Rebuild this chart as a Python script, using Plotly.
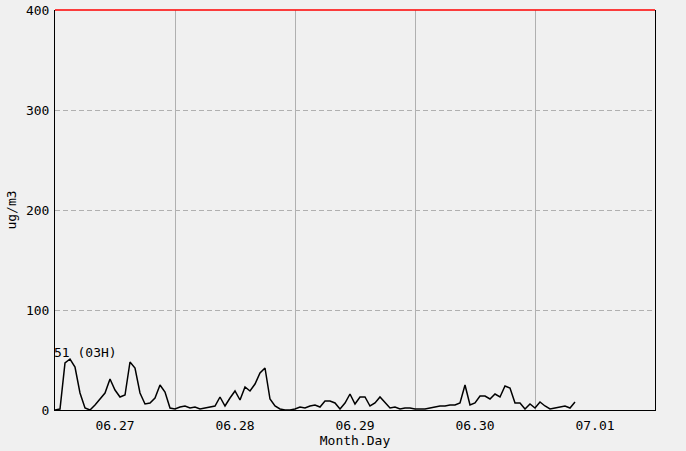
import plotly.graph_objects as go

# hours since 06.27 00:00
values = [
    0, 1, 47, 51, 43, 17, 2, 0, 5, 11, 17, 31, 20, 13, 15, 48, 42, 17, 6, 7, 12, 25, 18, 2,
    1, 3, 4, 2, 3, 1, 2, 3, 4, 13, 4, 12, 19, 10, 23, 19, 26, 37, 42, 11, 4, 1, 0, 0,
    1, 3, 2, 4, 5, 3, 9, 9, 7, 1, 7, 16, 6, 13, 13, 4, 7, 13, 7, 2, 3, 1, 2, 2,
    1, 1, 1, 2, 3, 4, 4, 5, 5, 7, 25, 5, 7, 14, 14, 11, 16, 13, 24, 22, 7, 7, 1, 6,
    2, 8, 4, 1, 2, 3, 4, 2, 8,
]
hours = list(range(len(values)))
tick_vals = [12, 36, 60, 84, 108]
tick_text = ["06.27", "06.28", "06.29", "06.30", "07.01"]
day_bounds = [24, 48, 72, 96]
y_ticks = [0, 100, 200, 300, 400]
peak_label = "51 (03H)"

font = dict(family="DejaVu Sans Mono", size=13, color="black")
grid = "#b0b0b0"

fig = go.Figure()
fig.add_trace(go.Scatter(x=hours, y=values, mode="lines",
                         line=dict(color="black", width=1.5), showlegend=False,
                         hoverinfo="skip"))

fig.add_shape(type="line", xref="paper", yref="paper", x0=0, x1=1, y0=1, y1=1,
              line=dict(color="red", width=1.5), layer="above")

fig.add_annotation(x=0, y=58, xref="x", yref="y", text=peak_label, showarrow=False,
                   xanchor="left", yanchor="middle", font=font, xshift=-3)

fig.update_layout(
    width=686, height=451,
    margin=dict(l=55, r=31, t=10, b=41),
    paper_bgcolor="#f0f0f0", plot_bgcolor="#f0f0f0",
    font=font,
    xaxis=dict(range=[0, 120], tickvals=tick_vals, ticktext=tick_text,
               showgrid=False, zeroline=False, showline=True, linecolor="black",
               linewidth=1, ticks="outside", ticklen=3, tickcolor="#f0f0f0",
               automargin=False,
               title=dict(text="Month.Day", font=font, standoff=0),
               minor=dict(tickvals=day_bounds, showgrid=True, gridcolor=grid,
                          gridwidth=1, ticks="")),
    yaxis=dict(range=[0, 400], tickvals=y_ticks, showgrid=True, gridcolor=grid,
               griddash="5px,3px", gridwidth=1, zeroline=False, showline=True,
               linecolor="black", linewidth=1, mirror=True, ticks="outside",
               ticklen=2, tickcolor="#f0f0f0", automargin=False,
               title=dict(text="ug/m3", font=font, standoff=6)),
)

fig.write_html("out.html", config={"displayModeBar": False},
               post_script="document.body.style.margin='0';"
                           "document.body.style.background='#f0f0f0';")
